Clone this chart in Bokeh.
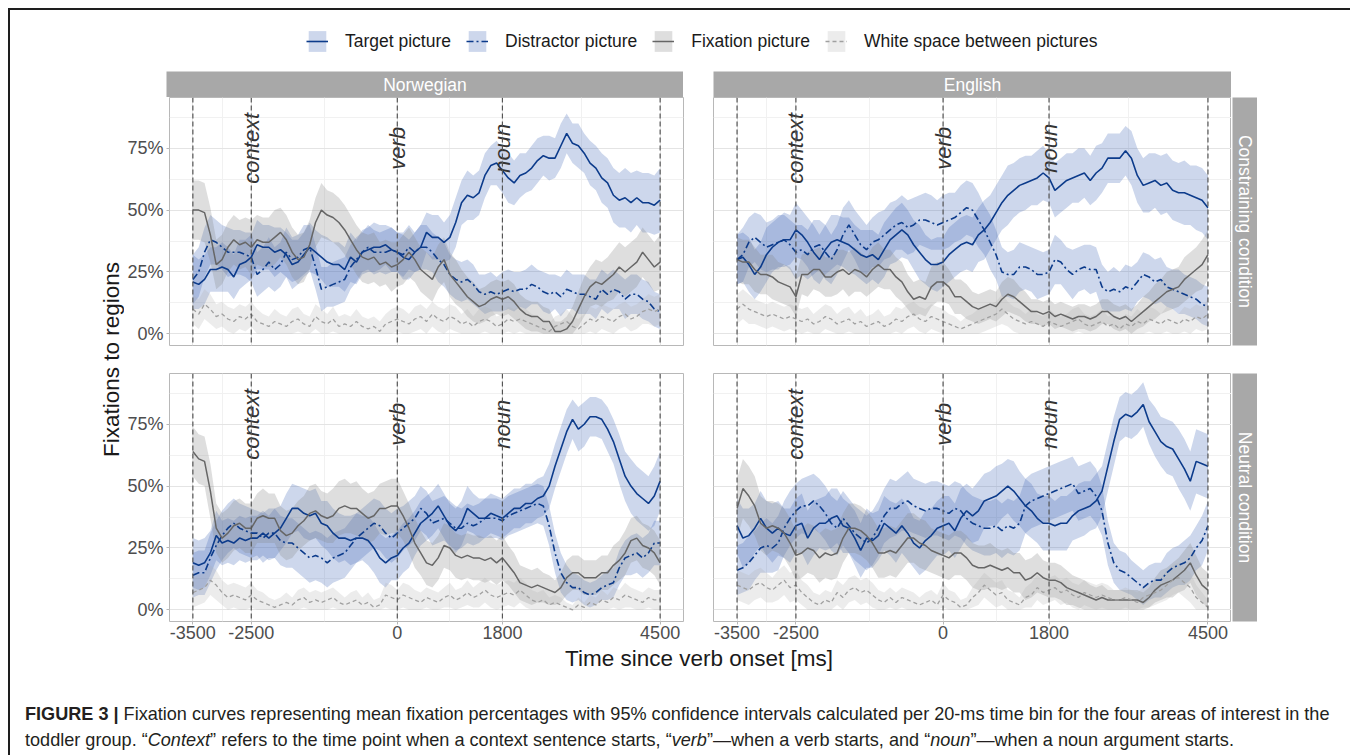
import math
from bokeh.plotting import figure
from bokeh.models import (Range1d, FixedTicker, NumeralTickFormatter, Span, Legend,
                          LegendItem, ColumnDataSource, Spacer, Div)
from bokeh.layouts import row, column
from bokeh.core.properties import value
from bokeh.embed import file_html
from bokeh.resources import INLINE

FONT = "Liberation Sans"

# ---------------------------------------------------------------- data
TIME_MS = list(range(-3500, 4501, 100))          # time since verb onset (ms)
X_TICKS = [-3500, -2500, 0, 1800, 4500]
X_MINOR = [-3000, -1250, 900, 3150]
Y_TICKS = [0, 0.25, 0.5, 0.75]
Y_MINOR = [0.125, 0.375, 0.625, 0.875]
EVENT_TIMES = [-2500, 0, 1800]
EVENT_LABELS = ["context", "verb", "noun"]
EVENT_LABEL_Y = 0.75
LANGUAGES = ["Norwegian", "English"]
CONDITIONS = ["Constraining condition", "Neutral condition"]
SERIES = ["Target picture", "Distractor picture", "Fixation picture",
          "White space between pictures"]

# mean fixation percentages (%), Norwegian / constraining
NO_CON_TARGET = [21,20,22,26,26,27,26,23,28,29, 31,36,35,35,33,34,32,28,29,32, 35,33,31,29,28,28,26,31,29,33,
                 34,35,35,36,34,33,31,30,33,35, 41,39,39,37,39,45,53,56,55,57, 64,68,69,66,63,61,64,65,67,70,
                 72,71,71,76,81,77,76,73,69,67, 63,61,56,54,55,53,55,53,53,52, 54]
NO_CON_DIST = [22,25,33,38,37,35,33,33,33,32, 31,24,26,29,26,28,33,30,31,34, 35,27,18,19,20,21,22,27,30,33,
               35,33,33,33,34,33,32,35,33,35, 35,33,30,28,24,22,21,22,20,17, 16,17,16,17,18,17,18,18,20,19,
               17,16,17,15,18,17,16,16,15,14, 18,16,18,17,14,16,16,14,13,10, 9]
NO_CON_FIX = [50,50,49,40,28,30,35,38,36,37, 35,38,37,37,39,41,38,33,30,31, 36,45,50,48,47,45,42,38,34,31,
              30,31,28,29,27,28,30,33,30,26, 24,22,27,30,24,21,18,15,13,11, 12,14,15,14,15,13,10,8,7,7,
              5,5,1,1,2,5,10,15,19,21, 20,22,24,27,25,27,29,33,30,27, 29]
NO_CON_WHITE = [10,8,12,10,7,8,6,5,7,6, 8,5,4,3,5,4,3,5,6,4, 3,7,5,4,6,3,4,3,5,3,
                2,3,1,4,5,6,5,4,6,7, 5,8,6,5,7,6,4,5,3,5, 6,5,3,4,6,5,6,5,4,3,
                2,1,3,4,5,3,2,4,6,5, 7,6,5,7,8,6,7,9,10,9, 10]
# English / constraining
EN_CON_TARGET = [30,31,28,24,27,32,35,37,38,38, 42,40,37,33,30,34,37,38,37,36, 34,32,31,32,30,34,38,40,42,40,
                 36,33,30,28,28,29,32,34,36,37, 36,40,42,45,49,53,56,58,60,61, 62,63,65,63,58,60,62,63,64,65,
                 62,65,67,71,71,71,74,71,64,60, 61,62,60,61,58,57,57,56,55,54, 51]
EN_CON_DIST = [30,32,37,39,37,35,36,37,38,36, 33,34,32,35,36,33,30,34,40,44, 40,36,34,37,38,40,42,44,45,43,
               44,46,46,45,44,45,46,47,49,51, 50,46,42,37,32,25,24,24,27,27, 26,24,24,25,30,29,26,24,26,27,
               26,26,19,17,18,17,19,18,21,24, 23,21,22,19,18,17,16,15,14,12, 11]
EN_CON_FIX = [30,29,29,26,24,24,23,21,20,19, 15,24,24,26,26,23,23,25,26,24, 26,25,23,26,28,26,26,23,21,17,
              14,15,14,19,21,21,19,15,15,13, 11,10,11,12,11,14,16,15,13,11, 9,9,8,9,7,8,7,6,7,7,
              6,7,9,9,7,6,7,5,7,9, 11,13,15,17,18,19,22,24,26,28, 32]
EN_CON_WHITE = [10,12,10,9,8,7,8,7,6,7, 6,5,6,4,5,7,6,4,5,6, 4,5,3,4,5,3,4,6,5,7,
                8,6,5,7,6,5,4,3,2,3, 4,5,6,7,8,10,8,6,5,4, 5,4,3,5,4,3,4,5,6,4,
                3,4,5,3,4,2,4,3,5,4, 6,5,4,6,5,4,6,5,7,6, 8]
# Norwegian / neutral
NO_NEU_TARGET = [19,18,19,23,30,27,28,27,29,28, 29,29,31,29,31,33,37,41,41,39, 38,39,35,34,31,29,29,28,29,29,
                 28,25,21,19,21,22,25,27,31,35, 37,39,42,38,34,32,35,41,39,37, 37,39,38,37,39,41,41,43,43,45,
                 46,50,58,65,72,77,73,75,78,78, 77,73,68,61,54,50,47,45,43,46, 52]
NO_NEU_DIST = [14,15,15,21,26,30,33,35,33,32, 31,31,29,31,31,28,27,27,25,23, 21,22,21,19,21,22,23,26,29,31,
               33,35,34,31,29,31,33,35,37,41, 39,35,36,37,35,33,33,35,34,35, 37,37,37,36,38,39,40,41,42,43,
               42,34,23,15,11,9,9,7,6,7, 9,10,11,17,21,22,23,21,23,27, 27]
NO_NEU_FIX = [64,61,60,48,33,29,31,34,35,33, 33,37,38,37,37,32,30,31,34,36, 39,40,38,37,38,41,42,41,41,39,
              37,38,41,41,42,42,38,33,27,23, 19,18,21,26,25,22,21,22,21,21, 20,21,19,21,18,15,11,10,9,10,
              9,8,7,9,13,15,15,13,13,13, 15,15,18,20,23,28,29,26,25,23, 19]
NO_NEU_WHITE = [7,8,9,12,10,7,5,6,5,4, 6,4,3,2,1,2,3,2,4,5, 3,4,3,4,5,3,2,3,4,2,
                3,1,2,6,5,4,6,5,4,3, 5,4,3,5,6,4,5,7,5,6, 8,6,5,6,7,6,8,6,4,3,
                4,2,3,2,1,0,2,1,3,2, 4,3,5,4,6,5,4,3,5,4, 4]
# English / neutral
EN_NEU_TARGET = [34,29,30,33,37,33,31,33,31,30, 34,35,29,33,35,35,37,38,34,33, 29,24,29,28,30,35,33,31,34,31,
                 27,25,28,30,33,34,35,32,37,40, 38,40,44,45,46,48,50,48,45,42, 40,37,35,35,34,35,35,38,40,41,
                 42,44,48,58,68,77,79,78,80,83, 76,72,68,66,65,61,57,52,60,59, 58]
EN_NEU_DIST = [16,17,19,22,25,26,25,27,33,37, 40,42,42,44,42,39,35,33,37,34, 31,29,27,29,33,38,41,41,43,44,
               42,41,40,41,41,40,39,41,40,37, 35,34,33,33,34,32,34,33,35,42, 44,45,46,47,48,49,50,51,47,48,
               49,46,40,27,19,16,15,13,11,9, 11,12,12,15,17,18,19,21,25,28, 34]
EN_NEU_FIX = [41,49,46,42,35,33,34,33,31,27, 22,23,25,24,21,23,22,23,29,33, 33,32,30,27,23,23,24,23,26,29,
              29,27,26,24,23,22,21,23,23,21, 18,17,17,18,17,16,17,15,15,12, 13,15,13,12,12,11,9,8,7,6,
              5,4,5,4,4,4,4,4,4,3, 5,8,10,11,12,14,16,19,14,10, 8]
EN_NEU_WHITE = [10,9,8,10,11,9,8,10,12,9, 10,7,5,3,2,4,3,7,5,8, 9,7,8,6,4,3,5,3,5,4,
                3,2,3,4,2,6,4,3,1,2, 5,7,10,8,6,7,4,3,2,5, 6,9,7,8,9,7,8,6,5,7,
                6,5,6,5,4,4,5,4,3,5, 6,7,8,10,12,13,11,9,5,3, 1]

# 95% CI half-widths (percentage points)
NO_CON_TARGET_HW = [11,10,10,9,9,10,9,9,10,9, 9,10,9,9,10,9,9,10,9,9, 10,9,9,10,9,9,9,10,9,9,
                    9,10,9,8,9,8,9,8,8,9, 8,9,9,8,9,10,9,10,9,9, 9,8,9,9,10,9,9,8,9,9,
                    8,9,8,9,8,8,9,8,9,9, 10,10,11,11,12,12,11,12,12,12, 13]
NO_CON_DIST_HW = [10,10,10,10,9,9,10,9,9,9, 10,9,9,10,9,9,10,9,9,10, 9,9,9,8,9,9,9,9,9,8,
                  9,9,8,9,9,8,9,9,8,9, 9,8,9,9,8,8,8,8,8,7, 8,8,7,8,8,8,7,8,8,7,
                  8,8,7,8,8,7,8,8,7,8, 8,8,8,7,8,8,8,8,8,7, 7]
NO_CON_FIX_HW = [12,12,12,11,10,10,10,10,10,10, 11,10,10,10,11,10,10,10,10,10, 10,10,11,10,10,10,10,10,10,10,
                 10,10,9,9,10,9,10,10,9,9, 9,9,9,9,9,9,8,8,8,7, 7,7,7,7,7,7,6,6,6,6,
                 6,5,4,4,5,6,7,8,8,9, 9,9,10,10,10,10,10,10,10,10, 11]
NO_CON_WHITE_HW = [6,6,6,6,5,5,5,5,5,5, 5,5,4,4,5,4,4,5,5,4, 4,5,5,4,5,4,4,4,5,4,
                   4,4,4,4,5,5,5,4,5,5, 5,5,5,5,5,5,4,5,4,5, 5,5,4,4,5,5,5,5,4,4,
                   4,3,4,4,5,4,4,4,5,5, 5,5,5,5,5,5,5,5,6,6, 6]
EN_CON_TARGET_HW = [10,10,11,10,10,11,10,10,11,10, 11,10,10,11,10,10,11,10,10,11, 10,10,11,10,10,11,10,11,11,10,
                    10,11,10,10,11,10,11,11,11,11, 11,11,12,11,11,11,12,11,11,11, 10,11,11,10,11,11,11,10,11,10,
                    10,11,10,10,10,10,10,11,11,11, 12,11,12,12,12,12,13,12,13,13, 13]
EN_CON_DIST_HW = [10,11,10,10,11,10,10,11,10,10, 11,10,10,11,10,11,10,10,11,10, 10,11,10,10,11,10,11,10,11,11,
                  11,10,11,11,10,11,11,10,11,11, 11,11,10,11,10,10,9,10,10,9, 9,10,9,9,10,9,9,10,9,9,
                  10,9,9,8,9,8,9,9,8,9, 9,9,9,8,8,9,8,8,8,8, 8]
EN_CON_FIX_HW = [9,9,9,9,8,8,9,8,8,8, 8,8,9,8,9,8,8,9,8,9, 9,8,8,9,9,8,8,8,8,7,
                 7,7,7,8,8,8,7,7,7,7, 6,6,6,6,6,7,7,7,6,6, 5,5,5,5,5,5,5,5,5,5,
                 5,5,5,5,5,5,5,5,5,6, 6,7,7,8,8,8,9,9,9,10, 10]
EN_CON_WHITE_HW = [6,6,6,5,5,5,5,5,5,5, 5,5,5,4,5,5,5,4,5,5, 4,5,4,4,5,4,4,5,5,5,
                   5,5,5,5,5,5,4,4,3,4, 4,5,5,5,5,6,5,5,5,4, 5,4,4,5,4,4,4,5,5,4,
                   4,4,5,4,4,3,4,4,5,4, 5,5,4,5,5,4,5,5,5,5, 6]
NO_NEU_TARGET_HW = [10,10,10,9,10,9,9,9,9,9, 9,9,9,9,10,9,10,10,9,10, 10,10,9,10,10,10,9,10,10,9,
                    10,10,10,10,9,10,10,10,9,9, 9,9,9,9,9,9,9,9,8,8, 8,8,8,8,8,8,8,8,8,8,
                    8,9,9,9,9,8,9,9,8,8, 8,9,9,10,10,11,11,11,11,12, 12]
NO_NEU_DIST_HW = [9,9,9,10,10,10,10,10,10,10, 10,9,10,10,10,10,10,10,10,10, 10,10,10,10,10,10,10,10,10,10,
                  10,10,10,10,10,10,9,9,9,9, 9,9,9,9,9,9,8,8,8,8, 8,8,8,8,8,8,8,8,8,8,
                  8,8,8,8,7,6,5,5,5,5, 5,6,6,7,7,8,8,8,8,9, 9]
NO_NEU_FIX_HW = [10,10,10,11,10,10,10,10,10,10, 10,10,11,10,10,10,10,10,10,10, 11,11,10,10,11,11,11,10,11,10,
                 10,10,10,11,11,11,10,10,10,9, 9,9,9,9,9,9,9,9,9,9, 9,9,9,9,8,8,7,7,7,7,
                 6,6,5,6,7,7,7,7,7,7, 7,7,8,8,9,9,9,9,9,9, 9]
NO_NEU_WHITE_HW = [6,6,6,6,6,5,5,5,5,5, 5,4,4,3,3,3,4,3,4,4, 4,4,4,4,4,4,3,4,4,3,
                   4,3,3,5,5,4,5,5,4,4, 4,4,4,4,5,4,4,5,4,5, 5,5,5,5,5,5,5,5,4,4,
                   4,3,3,3,2,2,3,2,3,3, 4,3,4,4,5,4,4,4,4,4, 4]
EN_NEU_TARGET_HW = [11,12,11,10,11,11,12,11,10,11, 11,12,11,11,10,11,12,11,11,10, 11,11,12,11,10,11,11,12,11,11,
                    10,11,12,11,11,12,11,11,12,11, 11,12,11,11,12,11,11,12,11,11, 11,10,11,11,10,11,11,10,11,11,
                    10,11,10,10,10,9,9,9,9,9, 9,10,10,11,11,12,12,12,13,13, 13]
EN_NEU_DIST_HW = [10,10,11,10,10,11,10,11,11,11, 11,11,12,11,11,11,11,11,11,11, 11,11,11,11,11,11,12,11,11,12,
                  11,11,11,11,11,11,11,11,11,11, 11,11,11,11,11,11,11,11,11,11, 11,11,11,11,11,11,11,11,11,11,
                  11,11,10,9,8,8,8,7,7,7, 7,7,7,8,8,8,9,9,9,10, 10]
EN_NEU_FIX_HW = [12,12,12,12,11,11,10,10,10,10, 10,10,10,10,10,10,10,10,10,10, 10,10,10,10,10,10,10,10,10,10,
                 10,10,10,9,9,9,9,9,9,9, 9,9,9,9,8,8,8,8,8,8, 8,8,7,7,7,7,7,6,6,6,
                 5,5,5,4,4,4,4,4,4,4, 4,5,6,6,7,7,8,8,8,7, 7]
EN_NEU_WHITE_HW = [6,6,6,6,6,6,5,6,6,6, 6,5,5,4,4,4,4,5,5,5, 5,5,5,5,4,4,4,4,4,4,
                   4,3,4,4,4,5,4,4,3,3, 4,5,5,5,5,5,4,4,3,4, 5,5,5,5,5,5,5,5,5,5,
                   5,5,5,5,4,4,4,4,4,4, 5,5,5,6,6,6,6,6,5,4, 3]

PANEL_DATA = {
    ("Norwegian", "Constraining condition"): [(NO_CON_TARGET, NO_CON_TARGET_HW), (NO_CON_DIST, NO_CON_DIST_HW),
                                              (NO_CON_FIX, NO_CON_FIX_HW), (NO_CON_WHITE, NO_CON_WHITE_HW)],
    ("English", "Constraining condition"): [(EN_CON_TARGET, EN_CON_TARGET_HW), (EN_CON_DIST, EN_CON_DIST_HW),
                                            (EN_CON_FIX, EN_CON_FIX_HW), (EN_CON_WHITE, EN_CON_WHITE_HW)],
    ("Norwegian", "Neutral condition"): [(NO_NEU_TARGET, NO_NEU_TARGET_HW), (NO_NEU_DIST, NO_NEU_DIST_HW),
                                         (NO_NEU_FIX, NO_NEU_FIX_HW), (NO_NEU_WHITE, NO_NEU_WHITE_HW)],
    ("English", "Neutral condition"): [(EN_NEU_TARGET, EN_NEU_TARGET_HW), (EN_NEU_DIST, EN_NEU_DIST_HW),
                                       (EN_NEU_FIX, EN_NEU_FIX_HW), (EN_NEU_WHITE, EN_NEU_WHITE_HW)],
}
for key, lst in PANEL_DATA.items():
    for m, h in lst:
        if len(m) != len(TIME_MS) or len(h) != len(TIME_MS):
            raise ValueError(f"bad length in {key}: {len(m)} {len(h)}")

# ---------------------------------------------------------------- style
LINE_COLORS = ["#0c3b8b", "#0c3b8b", "#666666", "#a0a0a0"]
LINE_WIDTHS = [1.6, 1.6, 1.5, 1.3]
LINE_DASH = ["solid", "7 3 2 3", "solid", "4 3"]
BAND_COLORS = ["#3c64b4", "#3c64b4", "#858585", "#b0b0b0"]
BAND_ALPHA = [0.26, 0.26, 0.27, 0.24]
STRIP_COLOR = "#a8a8a8"


def panel(lang, cond, width, height, mbl, mbr, mbt, mbb, show_x, show_y):
    p = figure(width=width, height=height, title=None,
               x_range=Range1d(-3900, 4900), y_range=Range1d(-0.047, 0.955),
               output_backend="svg", toolbar_location=None,
               min_border_left=mbl, min_border_right=mbr, min_border_top=mbt, min_border_bottom=mbb,
               background_fill_color="white", border_fill_color="white",
               outline_line_color="#b8b8b8", outline_line_width=1)
    xt = FixedTicker(ticks=X_TICKS, minor_ticks=X_MINOR)
    yt = FixedTicker(ticks=Y_TICKS, minor_ticks=Y_MINOR)
    p.xaxis.ticker = xt
    p.yaxis.ticker = yt
    p.xgrid.ticker = xt
    p.ygrid.ticker = yt
    for g in (p.xgrid, p.ygrid):
        g.grid_line_color = "#e4e4e4"
        g.minor_grid_line_color = "#f1f1f1"
        g.grid_line_width = 1
    for ax in (p.xaxis, p.yaxis):
        ax.axis_line_color = None
        ax.major_tick_line_color = "#b8b8b8"
        ax.major_tick_in = 0
        ax.major_tick_out = 3
        ax.minor_tick_line_color = None
        ax.major_label_text_font = FONT
        ax.major_label_text_font_size = "18px"
        ax.major_label_text_color = "#4d4d4d"
    p.xaxis.major_label_standoff = 0
    p.yaxis.major_label_standoff = 2
    p.yaxis.formatter = NumeralTickFormatter(format="0%")
    p.xaxis.major_label_overrides = {t: str(t) for t in X_TICKS}
    p.xaxis.visible = show_x
    p.yaxis.visible = show_y

    srcs = []
    for i, (m, h) in enumerate(PANEL_DATA[(lang, cond)]):
        src = ColumnDataSource(dict(
            t=TIME_MS,
            m=[v / 100 for v in m],
            lo=[max(0, v - w) / 100 for v, w in zip(m, h)],
            hi=[(v + w) / 100 for v, w in zip(m, h)]))
        srcs.append(src)
        p.varea(x="t", y1="lo", y2="hi", source=src,
                fill_color=BAND_COLORS[i], fill_alpha=BAND_ALPHA[i])
    for i, src in enumerate(srcs):
        p.line(x="t", y="m", source=src, line_color=LINE_COLORS[i],
               line_width=LINE_WIDTHS[i], line_dash=LINE_DASH[i])
    for t in X_TICKS:
        p.add_layout(Span(location=t, dimension="height", line_color="#555555",
                          line_width=1.2, line_dash="5 3"))
    p.text(x=EVENT_TIMES, y=[EVENT_LABEL_Y] * len(EVENT_TIMES), text=EVENT_LABELS,
           angle=math.pi / 2, text_align="center", text_baseline="alphabetic",
           text_font=value(FONT), text_font_style="italic", text_font_size="22px",
           text_color="#333333")
    return p


def blank(width, height, mbl=0, mbt=0, mbb=0, bg="white"):
    fw, fh = width - mbl, height - mbt - mbb
    f = figure(width=width, height=height, title=None, x_range=Range1d(0, fw), y_range=Range1d(0, fh),
               output_backend="svg", toolbar_location=None, x_axis_location=None, y_axis_location=None,
               min_border_left=mbl, min_border_right=0, min_border_top=mbt, min_border_bottom=mbb,
               background_fill_color=bg, border_fill_color="white", outline_line_color=None)
    f.grid.visible = False
    return f, fw, fh


def strip(text, width, height, mbl=0, mbt=0, mbb=0, vertical=False):
    f, fw, fh = blank(width, height, mbl, mbt, mbb, bg=STRIP_COLOR)
    f.text(x=[fw / 2], y=[fh / 2], text=[text], angle=-math.pi / 2 if vertical else 0,
           text_align="center", text_baseline="middle", text_font=value(FONT),
           text_font_size="17.5px", text_color="white")
    return f


# ---------------------------------------------------------------- legend
lg, lgw, lgh = blank(1344, 61)
items = []
for i, name in enumerate(SERIES):
    # off-canvas points: these renderers only supply the legend keys
    b = lg.varea(x=[-20, -10], y1=[0, 0], y2=[1, 1], fill_color=BAND_COLORS[i], fill_alpha=BAND_ALPHA[i])
    l = lg.line(x=[-20, -10], y=[0.5, 0.5], line_color=LINE_COLORS[i], line_width=LINE_WIDTHS[i],
                line_dash=LINE_DASH[i])
    items.append(LegendItem(label=name, renderers=[b, l]))
legend = Legend(items=items, orientation="horizontal", location=(296, 17),
                glyph_width=22, glyph_height=26, label_height=26, label_standoff=17,
                spacing=15, padding=0, margin=0, border_line_color=None,
                background_fill_alpha=0, label_text_font=FONT, label_text_font_size="17.5px",
                label_text_color="#1a1a1a")
lg.add_layout(legend)

# ---------------------------------------------------------------- panels
p1 = panel("Norwegian", "Constraining condition", 574, 262, 42, 15, 0, 14, False, True)
p2 = panel("English", "Constraining condition", 533, 262, 15, 0, 0, 14, False, False)
p3 = panel("Norwegian", "Neutral condition", 574, 286, 42, 15, 14, 24, True, True)
p4 = panel("English", "Neutral condition", 533, 286, 15, 0, 14, 24, True, False)
s1 = strip(CONDITIONS[0], 26, 262, mbl=1, mbt=0, mbb=14, vertical=True)
s2 = strip(CONDITIONS[1], 26, 286, mbl=1, mbt=14, mbb=24, vertical=True)
top_strips = row(Spacer(width=42, height=26), strip(LANGUAGES[0], 517, 26),
                 Spacer(width=30, height=26), strip(LANGUAGES[1], 518, 26))

xt_fig, xw, xh = blank(1133, 29)
xt_fig.text(x=[574.5], y=[28.5], text=["Time since verb onset [ms]"], text_align="center",
            text_baseline="top", text_font=value(FONT), text_font_size="22.5px",
            text_color="#1a1a1a")

yl_fig, yw, yh = blank(114, 603)
yl_fig.text(x=[113], y=[315], text=["Fixations to regions"], angle=math.pi / 2,
            text_align="center", text_baseline="bottom", text_font=value(FONT),
            text_font_size="22.5px", text_color="#1a1a1a")

grid_block = column(top_strips, row(p1, p2, s1), row(p3, p4, s2), xt_fig)

CAPTION = ('<div style="font-family:\'Liberation Sans Narrow\',\'Liberation Sans\',sans-serif;'
           'font-size:18.1px;line-height:26px;color:#231f20;white-space:nowrap;padding:22px 0 0 10px;">'
           '<b>FIGURE 3 |</b> Fixation curves representing mean fixation percentages with 95% confidence '
           'intervals calculated per 20-ms time bin for the four areas of interest in the<br>'
           'toddler group. \u201c<i>Context</i>\u201d refers to the time point when a context sentence starts, '
           '\u201c<i>verb</i>\u201d\u2014when a verb starts, and \u201c<i>noun</i>\u201d\u2014when a noun '
           'argument starts.</div>')
cap = Div(text=CAPTION, width=1344, height=79)

root = column(lg, row(yl_fig, grid_block), cap,
              styles={"border-top": "2px solid #1e1e1e", "border-left": "2px solid #1e1e1e",
                      "border-right": "2px solid #1e1e1e"})

html = file_html(root, INLINE)
html = html.replace("<head>", "<head><style>html,body{overflow:hidden;}"
                    "body{margin:8px !important;}</style>", 1)
open("out.html", "w").write(html)
